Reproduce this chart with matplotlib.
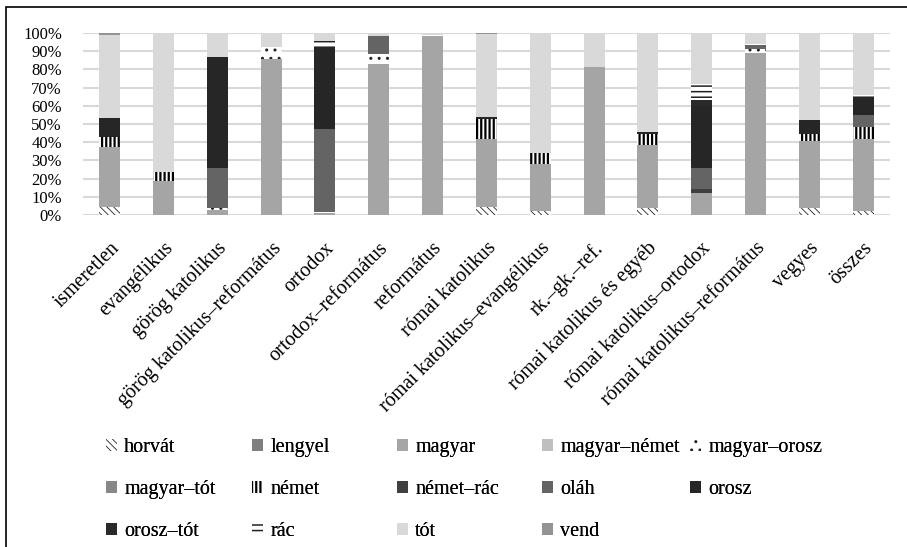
import numpy as np
import matplotlib
matplotlib.use("Agg")
import matplotlib.pyplot as plt
from matplotlib.patches import Rectangle

plt.rcParams['font.family'] = ['Liberation Serif', 'DejaVu Serif']

categories = ["ismeretlen", "evangélikus", "görög katolikus", "görög katolikus–református",
              "ortodox", "ortodox–református", "református", "római katolikus",
              "római katolikus–evangélikus", "rk.–gk.–ref.", "római katolikus és egyéb",
              "római katolikus–ortodox", "római katolikus–református", "vegyes", "összes"]

# share of each language group per religion group, in percent
horvat       = [4.2, 0, 0, 0, 0, 0, 0, 4.6, 2.2, 0, 3.7, 0, 0, 3.7, 2.4]
lengyel      = [0] * 15
magyar       = [33.3, 18.7, 3.0, 85.7, 1.0, 82.8, 98.4, 37.0, 25.8, 81.5, 34.8, 11.9, 88.8, 37.1, 39.4]
magyar_nemet = [0] * 15
magyar_orosz = [0, 0, 1.0, 6.8, 0.5, 5.5, 0.5, 0, 0, 0, 0, 0, 2.2, 0, 0]
magyar_tot   = [0] * 15
nemet        = [5.2, 5.1, 0, 0, 0, 0, 0, 11.0, 6.2, 0, 5.8, 0, 0, 3.7, 6.7]
nemet_rac    = [0, 0, 0, 0, 0, 0, 0, 0, 0, 0, 0, 2.4, 0, 0, 0]
olah         = [0, 0, 22.0, 0, 45.8, 10.1, 0, 0, 0, 0, 0, 11.3, 2.4, 0, 6.6]
orosz        = [10.4, 0, 60.6, 0, 44.6, 0, 0, 1.1, 0, 0, 1.1, 34.3, 0, 7.7, 9.9]
orosz_tot    = [0, 0, 0, 0, 0, 0, 0, 0, 0, 0, 0, 3.3, 0, 0, 0]
rac          = [0, 0, 0, 0, 3.8, 0, 0, 0, 0, 0, 0, 8.8, 0.6, 0, 1.0]
tot          = [46.0, 76.2, 13.4, 7.5, 4.3, 1.6, 1.1, 46.0, 65.8, 18.5, 54.6, 28.0, 6.0, 47.8, 34.0]
vend         = [0.9, 0, 0, 0, 0, 0, 0, 0.3, 0, 0, 0, 0, 0, 0, 0]

series = [
    ("horvát", horvat, "white", "#222222", "\\" * 5, 0.6),
    ("lengyel", lengyel, "#7f7f7f", None, None, 0),
    ("magyar", magyar, "#a5a5a5", None, None, 0),
    ("magyar–német", magyar_nemet, "#bfbfbf", None, None, 0),
    ("magyar–orosz", magyar_orosz, "white", "#222222", "..", 1.0),
    ("magyar–tót", magyar_tot, "#888888", None, None, 0),
    ("német", nemet, "white", "black", "||||", 1.6),
    ("német–rác", nemet_rac, "#404040", None, None, 0),
    ("oláh", olah, "#646464", None, None, 0),
    ("orosz", orosz, "#262626", None, None, 0),
    ("orosz–tót", orosz_tot, "#2a2a2a", None, None, 0),
    ("rác", rac, "white", "#222222", "---", 1.1),
    ("tót", tot, "#d9d9d9", None, None, 0),
    ("vend", vend, "#939393", None, None, 0),
]

fig = plt.figure(figsize=(9.07, 5.47), dpi=100)
ax = fig.add_axes([0.0912, 0.607, 0.8901, 0.3327])

x = np.arange(len(categories))
bottom = np.zeros(len(categories))
handles = []
hatch_lw = {}
for name, vals, face, hcol, hatch, hlw in series:
    vals = np.array(vals) / 100.0
    bars = ax.bar(x, vals, 0.39, bottom=bottom, color=face,
                  edgecolor=hcol if hcol else face, linewidth=0,
                  hatch=hatch, label=name, zorder=3)
    if hatch and hasattr(bars[0], "set_hatch_linewidth"):
        for b in bars:
            b.set_hatch_linewidth(hlw)
    hatch_lw[name] = hlw
    handles.append(bars)
    bottom += vals

ax.set_xlim(-0.5, len(categories) - 0.5)
ax.set_ylim(0, 1)
yt = np.arange(0, 1.01, 0.1)
ax.set_yticks(yt)
ax.set_yticklabels([f"{int(round(v * 100))}%" for v in yt], fontsize=12)
ax.set_xticks(x)
ax.set_xticklabels(categories, rotation=45, ha='right', va='top',
                   rotation_mode='anchor', fontsize=14.5)
ax.tick_params(axis='both', length=0)
ax.tick_params(axis='y', pad=15)
ax.tick_params(axis='x', pad=17)
ax.grid(axis='y', color='#d9d9d9', linewidth=1.5, zorder=0)
for s in ax.spines.values():
    s.set_visible(False)

# legend laid out row by row, 5 columns on a fixed grid
col_x = [106, 252, 397, 542, 690]
for j, cx in enumerate(col_x):
    hs = handles[j::5]
    leg = fig.legend(hs, [h.get_label() for h in hs], loc='upper left',
                     bbox_to_anchor=(cx / 907, 1 - 438 / 547), frameon=False,
                     fontsize=14.5, borderpad=0, borderaxespad=0,
                     handlelength=0.55, handleheight=0.55, handletextpad=0.35,
                     labelspacing=1.15)
    for p, t in zip(leg.get_patches(), leg.get_texts()):
        if hasattr(p, "set_hatch_linewidth") and hatch_lw[t.get_text()]:
            p.set_hatch_linewidth(hatch_lw[t.get_text()])
    fig.add_artist(leg)

fig.add_artist(Rectangle((6 / 907, -0.02), 1.0, 1 - 7 / 547 + 0.02,
                         transform=fig.transFigure, fill=False,
                         edgecolor='black', linewidth=1.2))

fig.savefig("out.png", dpi=100)
